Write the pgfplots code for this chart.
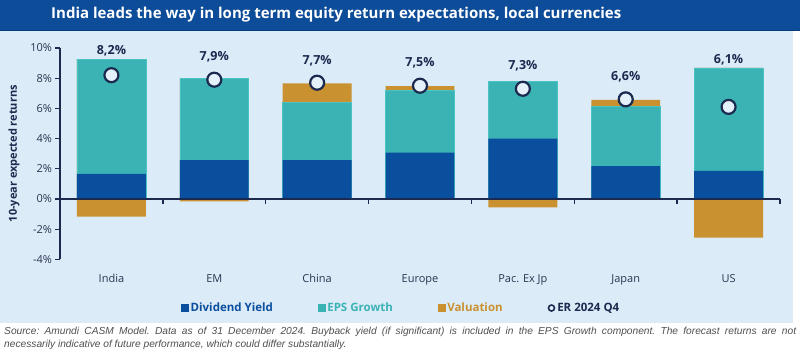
\documentclass[border=0pt]{standalone}
\usepackage{fontspec}
\setmainfont{Open Sans}
\newfontfamily\notefont{Liberation Sans}
\usepackage{pgfplots}
\pgfplotsset{compat=1.18}
\usepackage{pgfplotstable}
\definecolor{dyblue}{HTML}{0A4F9E}
\definecolor{epsteal}{HTML}{3BB3B5}
\definecolor{epsedge}{HTML}{4CC3C3}
\definecolor{valgold}{HTML}{C9912F}
\definecolor{bgblue}{HTML}{DCEBF8}
\definecolor{headblue}{HTML}{0D4C99}
\definecolor{headline}{HTML}{083B7A}
\definecolor{navy}{HTML}{1B2A4E}
\definecolor{ticktext}{HTML}{2A3550}
\definecolor{circfill}{HTML}{E4F0FA}
\definecolor{notegray}{HTML}{505050}

% x dy eps valpos valneg er laby
\pgfplotstableread{
x dy eps valpos valneg er laby
0 1.66 7.61 0.00 -1.17 8.2 9.80
1 2.58 5.41 0.00 -0.15 7.9 9.40
2 2.58 3.80 1.28 0.00 7.7 9.14
3 3.07 4.10 0.31 0.00 7.5 9.00
4 3.99 3.80 0.00 -0.55 7.3 8.81
5 2.18 3.93 0.45 0.00 6.6 8.08
6 1.87 6.81 0.00 -2.56 6.1 9.20
}\data

\begin{document}
\begin{tikzpicture}[x=1pt,y=1pt]
\path[use as bounding box] (0,0) rectangle (800,358);
\fill[white] (0,0) rectangle (800,358);
\fill[bgblue] (0,35) rectangle (793,327);
\fill[headblue] (0,327) rectangle (800,358);
\draw[headline, line width=1pt] (0,327.5) -- (800,327.5);
\node[anchor=west, text=white, inner sep=0, font=\fontsize{15}{17}\selectfont\bfseries] at (51,343) {India leads the way in long term equity return expectations, local currencies};

\begin{axis}[
  scale only axis,
  width=720pt, height=211.4pt,
  at={(60pt,98.6pt)}, anchor=south west,
  xmin=-0.5, xmax=6.5, ymin=-4, ymax=10,
  clip=false,
  axis y line=left, axis x line=bottom,
  axis line style={-},
  y axis line style={draw=navy, line width=1.3pt},
  x axis line style={draw=none},
  xtick={0,1,2,3,4,5,6},
  xticklabels={India,EM,China,Europe,Pac. Ex Jp,Japan,US},
  xtick style={draw=none},
  xticklabel style={font=\fontsize{11}{13}\selectfont, text=ticktext, yshift=-7pt},
  ytick={-4,-2,0,2,4,6,8,10},
  yticklabels={-4\%,-2\%,0\%,2\%,4\%,6\%,8\%,10\%},
  yticklabel style={font=\fontsize{11}{13}\selectfont, text=ticktext},
  ytick style={draw=navy, line width=1.3pt},
  tick align=outside,
  major tick length=4.5pt,
  /pgf/number format/assume math mode=true,
  ylabel={10-year expected returns},
  ylabel style={at={(axis description cs:-0.064,0.5)}, anchor=center, font=\fontsize{11}{13}\selectfont\bfseries, text=navy},
  legend columns=4,
  legend style={draw=none, fill=none, at={(axis description cs:0.474,-0.23)}, anchor=center,
    font=\fontsize{11.5}{13}\selectfont\bfseries,
    /tikz/every even column/.append style={column sep=43pt},
    cells={anchor=west}},
]
\addlegendimage{legend image code/.code={\fill[dyblue] (0pt,-3.5pt) rectangle (7pt,3.5pt);}}
\addlegendentry{\textcolor{dyblue}{Dividend Yield}}
\addlegendimage{legend image code/.code={\fill[epsteal] (0pt,-3.5pt) rectangle (7pt,3.5pt);}}
\addlegendentry{\textcolor{epsteal}{EPS Growth}}
\addlegendimage{legend image code/.code={\fill[valgold] (0pt,-3.5pt) rectangle (7pt,3.5pt);}}
\addlegendentry{\textcolor{valgold}{Valuation}}
\addlegendimage{legend image code/.code={\draw[navy, line width=1.6pt, fill=circfill] (3.5pt,0pt) circle (3pt);}}
\addlegendentry{\textcolor{navy}{ER 2024 Q4}}

% positive valuation on top
\addplot[ybar, bar width=0.67, fill=valgold, draw=none, forget plot]
  table[x=x, y expr=\thisrow{dy}+\thisrow{eps}+\thisrow{valpos}] {\data};
% EPS growth
\addplot[ybar, bar width=0.67, fill=epsteal, draw=epsedge, line width=0.6pt, forget plot]
  table[x=x, y expr=\thisrow{dy}+\thisrow{eps}] {\data};
% dividend yield
\addplot[ybar, bar width=0.67, fill=dyblue, draw=none, forget plot]
  table[x=x, y=dy] {\data};
% negative valuation
\addplot[ybar, bar width=0.67, fill=valgold, draw=none, forget plot]
  table[x=x, y=valneg] {\data};

% zero line with category separators
\draw[navy, line width=1.3pt] (axis cs:-0.5,0) -- (axis cs:6.5,0);
\pgfplotsinvokeforeach{0.5,1.5,2.5,3.5,4.5,5.5,6.5}{
  \draw[navy, line width=1.3pt] (axis cs:#1,0) -- ++(0pt,-5pt);
}

% ER markers
\addplot[only marks, mark=*, mark size=7pt,
  mark options={draw=navy, fill=circfill, line width=2.2pt}, forget plot]
  table[x=x, y=er] {\data};
% ER labels
\addplot[only marks, mark=none, draw=none, forget plot,
  point meta=explicit,
  nodes near coords={\pgfmathprintnumber[fixed, precision=1, fixed zerofill, use comma]{\pgfplotspointmeta}\%},
  every node near coord/.style={anchor=center, font=\fontsize{12.5}{14}\selectfont\bfseries, text=navy}]
  table[x=x, y=laby, meta=er] {\data};
\end{axis}

\node[anchor=north west, inner sep=0] at (4,31) {\parbox{792pt}{\frenchspacing\notefont\itshape\fontsize{10.2}{13}\selectfont\color{notegray}Source: Amundi CASM Model. Data as of 31 December 2024. Buyback yield (if significant) is included in the EPS Growth component. The forecast returns are not\linebreak necessarily indicative of future performance, which could differ substantially.}};
\end{tikzpicture}
\end{document}
